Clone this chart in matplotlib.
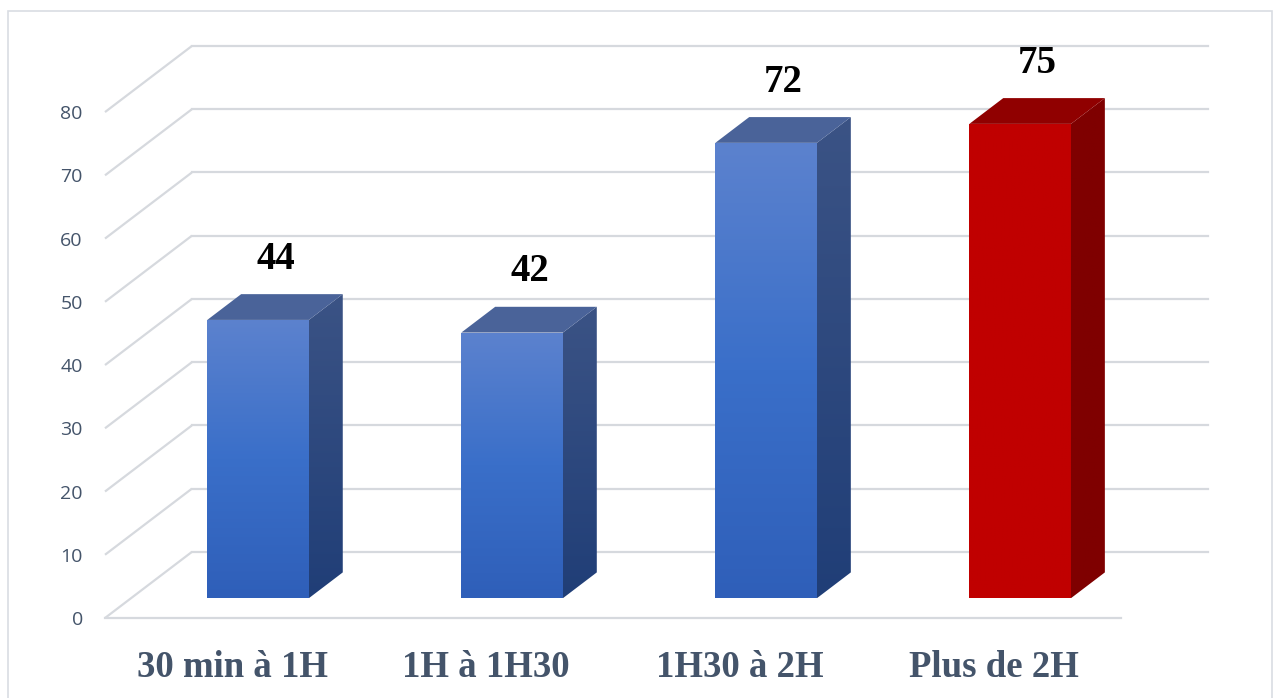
import numpy as np
import matplotlib.pyplot as plt
from matplotlib.patches import Polygon, Rectangle
from matplotlib.colors import LinearSegmentedColormap

categories = ["30 min à 1H", "1H à 1H30", "1H30 à 2H", "Plus de 2H"]
values = [44, 42, 72, 75]
highlight = [False, False, False, True]
yticks = [0, 10, 20, 30, 40, 50, 60, 70, 80]

# oblique depth of the floor, in data units (x in categories, y in values)
DX = 0.342
DY = 10.45
D_FRONT = 0.30
D_BACK = 0.69
HALF_W = 0.20

GRID = "#d6d9de"
TEXT = "#44546A"

BLUE = dict(front=("#5c82ce", "#3a6fc9", "#2f5fb9"),
            side=("#3b5385", "#203e77"),
            top="#4a6399")
RED = dict(front=("#c00000", "#c00000", "#c00000"),
           side=("#7f0000", "#7f0000"),
           top="#900000")


def gradient_poly(ax, verts, colors, y0, y1, zorder):
    poly = Polygon(verts, closed=True, facecolor="none", edgecolor="none",
                   zorder=zorder)
    ax.add_patch(poly)
    cmap = LinearSegmentedColormap.from_list("g", list(colors))
    xs = [p[0] for p in verts]
    # first row is drawn at the top: light at top, dark at bottom
    grad = np.linspace(0, 1, 256).reshape(-1, 1)
    im = ax.imshow(grad, cmap=cmap, aspect="auto", interpolation="bilinear",
                   extent=(min(xs), max(xs), y0, y1), zorder=zorder,
                   vmin=0, vmax=1)
    im.set_clip_path(poly)


def draw_bar(ax, xc, v, style):
    ox1, oy1 = D_FRONT * DX, D_FRONT * DY
    ox2, oy2 = D_BACK * DX, D_BACK * DY
    xl, xr = xc - HALF_W, xc + HALF_W

    front = [(xl + ox1, oy1), (xr + ox1, oy1), (xr + ox1, v + oy1), (xl + ox1, v + oy1)]
    side = [(xr + ox1, oy1), (xr + ox2, oy2), (xr + ox2, v + oy2), (xr + ox1, v + oy1)]
    top = [(xl + ox1, v + oy1), (xr + ox1, v + oy1), (xr + ox2, v + oy2), (xl + ox2, v + oy2)]

    gradient_poly(ax, side, style["side"], oy1, v + oy2, 3)
    gradient_poly(ax, front, style["front"], oy1, v + oy1, 4)
    ax.add_patch(Polygon(top, closed=True, facecolor=style["top"],
                         edgecolor="none", zorder=4))


fig = plt.figure(figsize=(12.74, 6.98), dpi=100)
fig.add_artist(Rectangle((8 / 1274, -0.01), 1264 / 1274, (698 - 11) / 698 + 0.01,
                         transform=fig.transFigure, facecolor="none",
                         edgecolor="#d9dde3", linewidth=1.2, zorder=-5))

ax = fig.add_axes([105 / 1274, (698 - 618) / 698, 1103 / 1274, 572 / 698])
ax.set_xlim(0, 4 + DX)
ax.set_ylim(0, 80 + DY)
ax.patch.set_visible(False)
for s in ax.spines.values():
    s.set_visible(False)

# gridlines: floor diagonal + back wall
for t in yticks:
    ax.plot([0, DX], [t, t + DY], color=GRID, lw=1.6, zorder=1,
            solid_capstyle="butt", clip_on=False)
    ax.plot([DX, 4 + DX], [t + DY, t + DY], color=GRID, lw=1.6, zorder=1,
            clip_on=False)
ax.plot([0, 4], [0, 0], color=GRID, lw=1.6, zorder=1, clip_on=False)

for i, (v, hl) in enumerate(zip(values, highlight)):
    xc = i + 0.5
    draw_bar(ax, xc, v, RED if hl else BLUE)
    ax.text(xc + 0.5 * DX, v + 0.5 * DY + 7.5, str(v), ha="center", va="center",
            fontsize=28, fontweight="bold", family="Liberation Serif",
            color="black", zorder=6)

ax.set_yticks(yticks)
ax.set_yticklabels([str(t) for t in yticks], family="Open Sans", fontsize=14,
                   color=TEXT)
ax.set_xticks([i + 0.5 for i in range(len(categories))])
ax.set_xticklabels(categories, family="Liberation Serif", fontweight="bold",
                   fontsize=26.5, color=TEXT)
ax.tick_params(axis="y", length=0, pad=16)
ax.tick_params(axis="x", length=0, pad=23)

fig.savefig("out.png", dpi=100)
